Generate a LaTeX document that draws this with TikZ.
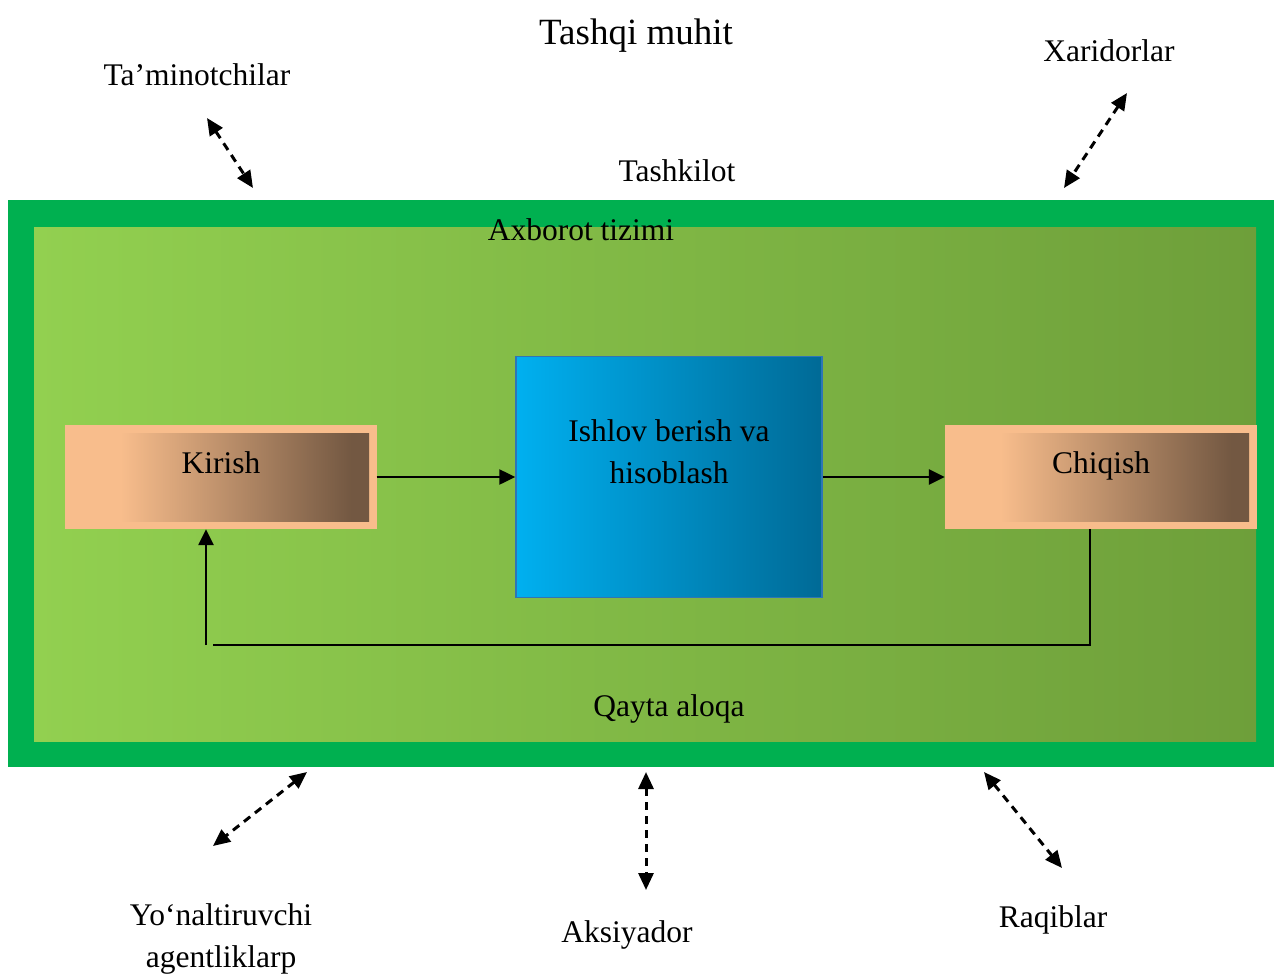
\documentclass[tikz,border=0pt]{standalone}
\usepackage{fontspec}
\setmainfont{Liberation Serif}
\usetikzlibrary{arrows.meta}
\definecolor{orggreen}{HTML}{00B050}
\definecolor{lgreen}{HTML}{92D050}
\definecolor{dgreen}{HTML}{6E9F3A}
\definecolor{peach}{HTML}{F8BD8C}
\definecolor{brownish}{HTML}{735842}
\definecolor{cyanb}{HTML}{00B0F0}
\definecolor{darkb}{HTML}{006A96}
\definecolor{blueedge}{HTML}{2E75B6}
\pgfdeclarehorizontalshading{peachbrown}{100bp}{color(0bp)=(peach); color(25bp)=(peach); color(33bp)=(peach); color(72bp)=(brownish); color(75bp)=(brownish); color(100bp)=(brownish)}
\begin{document}
\begin{tikzpicture}[x=1pt,y=-1pt,
  lbl/.style={font=\fontsize{31.5}{42}\selectfont, inner sep=0pt, align=center},
  title/.style={font=\fontsize{37}{44}\selectfont, inner sep=0pt},
  iobox/.style={draw=none, fill=peach, minimum width=312pt, minimum height=104pt, inner sep=0pt},
  flow/.style={line width=2.5pt, -{Triangle[length=16pt,width=15pt]}},
  plain/.style={line width=2.5pt},
  link/.style={line width=3pt, dash pattern=on 8pt off 6pt, {Triangle[length=17pt,width=15pt]}-{Triangle[length=17pt,width=15pt]}}]
\useasboundingbox (0,0) rectangle (1274,974);
% organisation frame
\fill[orggreen] (8,200) rectangle (1274,767);
\shade[left color=lgreen, right color=dgreen] (34,227) rectangle (1256,741);
% titles
\node[title] (tm) at (636,36) {Tashqi muhit};
\node[lbl] (tk) at (677,171) {Tashkilot};
\node[lbl] (ax) at (581,230) {Axborot tizimi};
\node[lbl] (qa) at (669,709) {Qayta aloqa};
% external entities
\node[lbl] (tam) at (197,75) {Ta’minotchilar};
\node[lbl] (xar) at (1109,51) {Xaridorlar};
\node[lbl] (yon) at (221,939) {Yo‘naltiruvchi\\agentliklarp};
\node[lbl] (aks) at (627,935) {Aksiyador};
\node[lbl] (raq) at (1053,920) {Raqiblar};
% boxes
\node[iobox] (kir) at (220.5,477) {};
\shade[shading=peachbrown] (73,433) rectangle (369,521);
\node[lbl] at (221,463) {Kirish};
\node[iobox] (chq) at (1101,477) {};
\shade[shading=peachbrown] (953,433) rectangle (1249,521);
\node[lbl] at (1101,466) {Chiqish};
\node[draw=blueedge, line width=1.5pt, left color=cyanb, right color=darkb, minimum width=306pt, minimum height=241pt, inner sep=0pt] (ish) at (669,477) {};
\node[lbl] at (669,451.5) {Ishlov berish va\\hisoblash};
% flows
\draw[flow] (kir.east) -- (ish.west);
\draw[flow] (ish.east) -- (chq.west);
\coordinate (fb1) at (1090,645);
\coordinate (fb2) at (213,645);
\coordinate (fb3) at (206,645);
\draw[plain] (chq.south -| fb1) -- (fb1) -- (fb2);
\draw[flow] (fb3) -- (kir.south -| fb3);
% environment links
\coordinate (a1) at (207,118); \coordinate (b1) at (253,188);
\coordinate (a2) at (1127,93); \coordinate (b2) at (1064,188);
\coordinate (a3) at (307,772); \coordinate (b3) at (213,846);
\coordinate (a4) at (646,772); \coordinate (b4) at (646,890);
\coordinate (a5) at (984,772); \coordinate (b5) at (1062,868);
\draw[link] (a1) -- (b1);
\draw[link] (a2) -- (b2);
\draw[link] (a3) -- (b3);
\draw[link] (a4) -- (b4);
\draw[link] (a5) -- (b5);
\end{tikzpicture}
\end{document}
